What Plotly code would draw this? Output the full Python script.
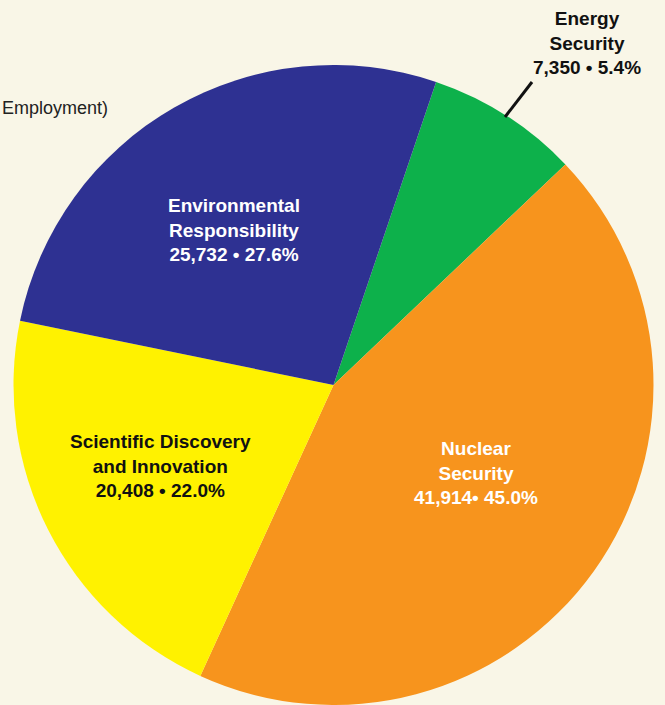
import plotly.graph_objects as go

# data
labels = ["Energy Security", "Nuclear Security", "Scientific Discovery and Innovation", "Environmental Responsibility"]
label_lines = ["Energy<br>Security", "Nuclear<br>Security", "Scientific Discovery<br>and Innovation", "Environmental<br>Responsibility"]
values = [7350, 41914, 20408, 25732]
pct_text = ["5.4%", "45.0%", "22.0%", "27.6%"]
sep = [" • ", "• ", " • ", " • "]
colors = ["#0db14b", "#f7941d", "#fff200", "#2e3192"]
text_colors = ["#111111", "#ffffff", "#111111", "#ffffff"]

W, H = 665, 705
bg = "#f9f6e7"

fig = go.Figure(go.Pie(
    labels=labels,
    values=values,
    sort=False,
    direction="clockwise",
    rotation=18.7,
    marker=dict(colors=colors, line=dict(width=0)),
    textinfo="none",
    hoverinfo="label+value",
    showlegend=False,
    domain=dict(x=[13.5 / W, 653.5 / W], y=[0, 640 / H]),
))

# label placement (pixels from top-left)
label_pos = [(587, 43), (476, 473), (160, 466), (234, 230)]

annotations = []
for i in range(len(labels)):
    txt = label_lines[i] + "<br>" + f"{values[i]:,}" + sep[i] + pct_text[i]
    px_, py_ = label_pos[i]
    annotations.append(dict(
        x=px_ / W, y=1 - py_ / H, xref="paper", yref="paper",
        text="<b>" + txt + "</b>", showarrow=False,
        font=dict(family="Arial, Liberation Sans, sans-serif", size=19, color=text_colors[i]),
        align="center", xanchor="center", yanchor="middle",
    ))

# heading fragment at the left edge
annotations.append(dict(
    x=0, y=1 - 108 / H, xref="paper", yref="paper",
    text="Employment)", showarrow=False,
    font=dict(family="Arial, Liberation Sans, sans-serif", size=18, color="#222222"),
    xanchor="left", yanchor="middle",
))

fig.update_layout(
    width=W, height=H,
    margin=dict(l=0, r=0, t=0, b=0),
    paper_bgcolor=bg, plot_bgcolor=bg,
    annotations=annotations,
    shapes=[dict(type="line", xref="paper", yref="paper",
                 x0=505 / W, y0=1 - 117 / H, x1=532 / W, y1=1 - 82 / H,
                 line=dict(color="#111111", width=3))],
)

fig.write_html("out.html", config={"displayModeBar": False},
               post_script="document.body.style.margin='0';")
